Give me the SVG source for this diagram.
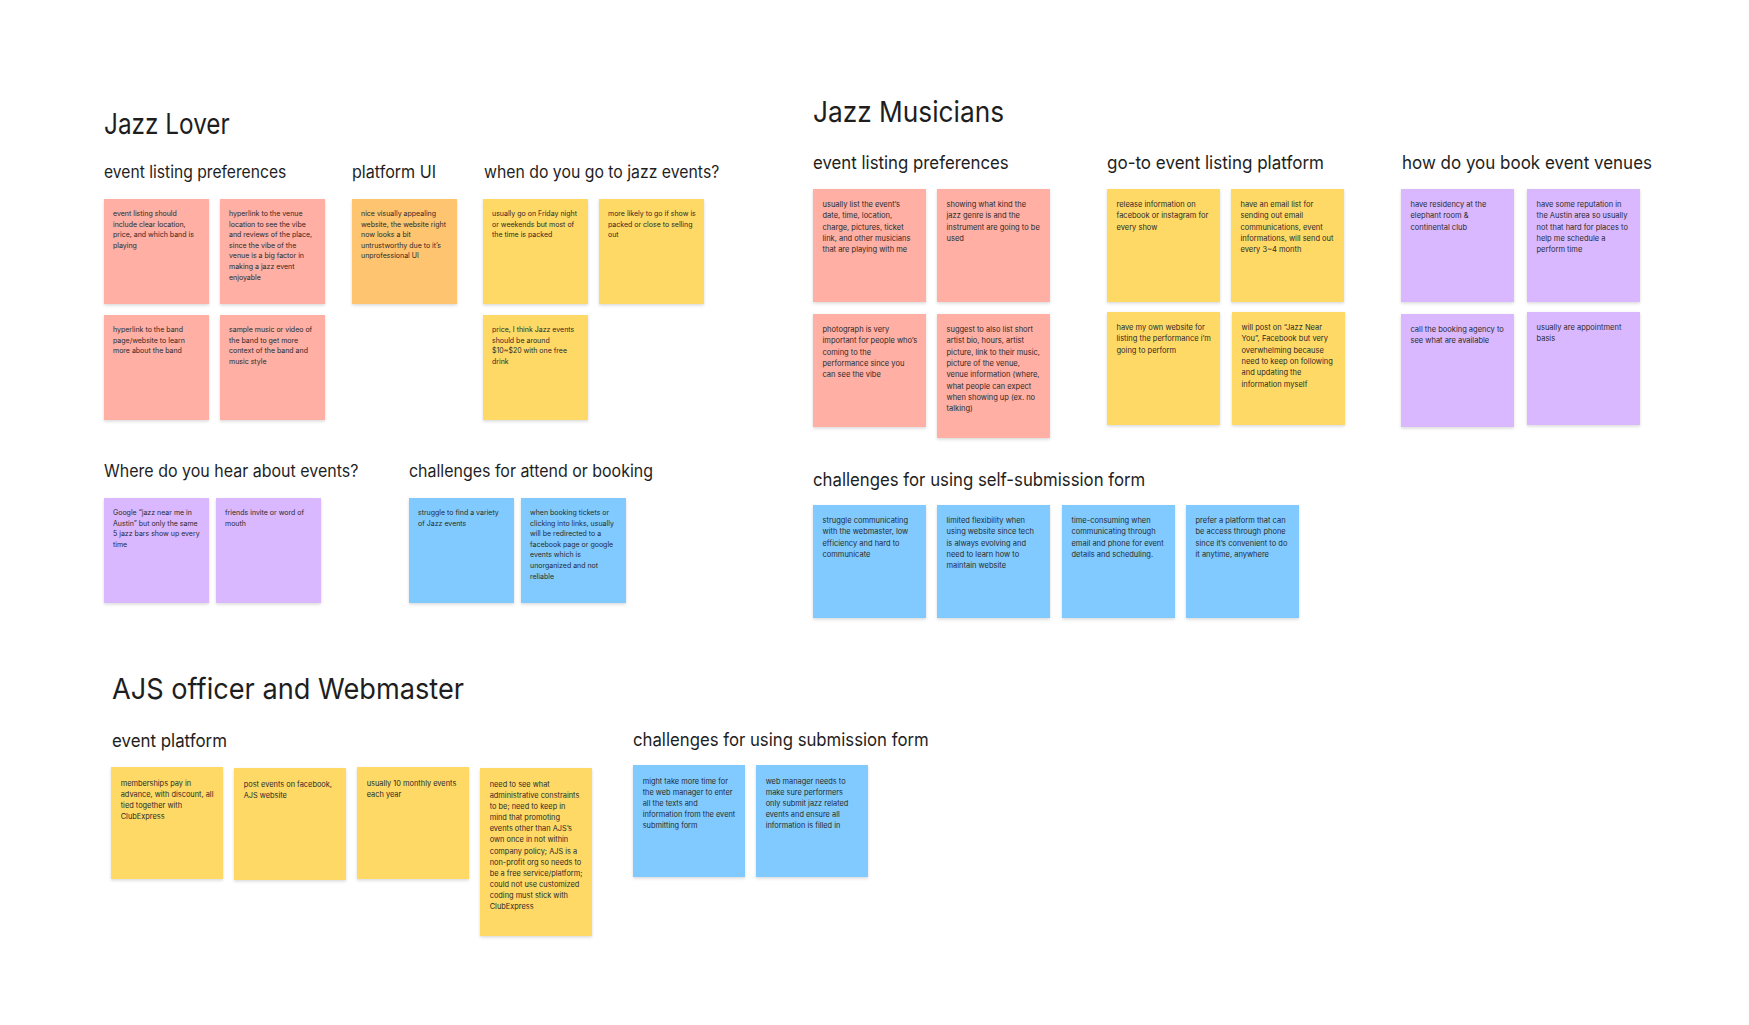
<svg xmlns="http://www.w3.org/2000/svg" width="1749" height="1025" viewBox="0 0 1749 1025">
<defs>
<filter id="sh" x="-10%" y="-10%" width="120%" height="130%">
<feDropShadow dx="0" dy="1.5" stdDeviation="1.5" flood-color="#000" flood-opacity="0.15"/>
</filter>
<style>
text{font-family:Inter,"Noto Sans","Liberation Sans",sans-serif;fill:#1e1e1e}
.title{font-size:29px}
.h1{font-size:17px}
.h2{font-size:18.2px}
.h3{font-size:18.1px}
.t1{font-size:7px;fill:#2a2a2a}
.t2{font-size:7.5px;fill:#2a2a2a}
.t3{font-size:7.4px;fill:#2a2a2a}
.red{fill:#FFAFA3}
.org{fill:#FFC470}
.yel{fill:#FFD966}
.vio{fill:#D9B8FF}
.blu{fill:#80CAFF}
rect{filter:url(#sh)}
</style>
</defs>
<rect x="0" y="0" width="1749" height="1025" fill="#ffffff" style="filter:none"/>

<!-- Section 1: Jazz Lover -->
<g id="jazz-lover">
<text class="title" x="104" y="134" textLength="125.7" lengthAdjust="spacingAndGlyphs">Jazz Lover</text>
<text class="h1" x="104" y="178" textLength="182.3" lengthAdjust="spacingAndGlyphs">event listing preferences</text>
<text class="h1" x="352" y="178" textLength="84" lengthAdjust="spacingAndGlyphs">platform UI</text>
<text class="h1" x="484" y="178" textLength="235.3" lengthAdjust="spacingAndGlyphs">when do you go to jazz events?</text>
<text class="h1" x="104" y="477" textLength="254.4" lengthAdjust="spacingAndGlyphs">Where do you hear about events?</text>
<text class="h1" x="409" y="477" textLength="244" lengthAdjust="spacingAndGlyphs">challenges for attend or booking</text>
</g>

<g id="jl-pref-1"><rect class="red" x="104" y="199" width="105" height="105"/>
<text class="t1" x="113" y="216"><tspan x="113">event listing should</tspan><tspan x="113" dy="10.6">include clear location,</tspan><tspan x="113" dy="10.6">price, and which band is</tspan><tspan x="113" dy="10.6">playing</tspan></text></g>
<g id="jl-pref-2"><rect class="red" x="220" y="199" width="105" height="105"/>
<text class="t1" x="229" y="216"><tspan x="229">hyperlink to the venue</tspan><tspan x="229" dy="10.6">location to see the vibe</tspan><tspan x="229" dy="10.6">and reviews of the place,</tspan><tspan x="229" dy="10.6">since the vibe of the</tspan><tspan x="229" dy="10.6">venue is a big factor in</tspan><tspan x="229" dy="10.6">making a jazz event</tspan><tspan x="229" dy="10.6">enjoyable</tspan></text></g>
<g id="jl-pref-3"><rect class="red" x="104" y="315" width="105" height="105"/>
<text class="t1" x="113" y="332"><tspan x="113">hyperlink to the band</tspan><tspan x="113" dy="10.6">page/website to learn</tspan><tspan x="113" dy="10.6">more about the band</tspan></text></g>
<g id="jl-pref-4"><rect class="red" x="220" y="315" width="105" height="105"/>
<text class="t1" x="229" y="332"><tspan x="229">sample music or video of</tspan><tspan x="229" dy="10.6">the band to get more</tspan><tspan x="229" dy="10.6">context of the band and</tspan><tspan x="229" dy="10.6">music style</tspan></text></g>
<g id="jl-ui-1"><rect class="org" x="352" y="199" width="105" height="105"/>
<text class="t1" x="361" y="216"><tspan x="361">nice visually appealing</tspan><tspan x="361" dy="10.6">website, the website right</tspan><tspan x="361" dy="10.6">now looks a bit</tspan><tspan x="361" dy="10.6">untrustworthy due to it’s</tspan><tspan x="361" dy="10.6">unprofessional UI</tspan></text></g>
<g id="jl-when-1"><rect class="yel" x="483" y="199" width="105" height="105"/>
<text class="t1" x="492" y="216"><tspan x="492">usually go on Friday night</tspan><tspan x="492" dy="10.6">or weekends but most of</tspan><tspan x="492" dy="10.6">the time is packed</tspan></text></g>
<g id="jl-when-2"><rect class="yel" x="599" y="199" width="105" height="105"/>
<text class="t1" x="608" y="216"><tspan x="608">more likely to go if show is</tspan><tspan x="608" dy="10.6">packed or close to selling</tspan><tspan x="608" dy="10.6">out</tspan></text></g>
<g id="jl-when-3"><rect class="yel" x="483" y="315" width="105" height="105"/>
<text class="t1" x="492" y="332"><tspan x="492">price, I think Jazz events</tspan><tspan x="492" dy="10.6">should be around</tspan><tspan x="492" dy="10.6">$10~$20 with one free</tspan><tspan x="492" dy="10.6">drink</tspan></text></g>
<g id="jl-hear-1"><rect class="vio" x="104" y="498" width="105" height="105"/>
<text class="t1" x="113" y="515"><tspan x="113">Google “jazz near me in</tspan><tspan x="113" dy="10.6">Austin” but only the same</tspan><tspan x="113" dy="10.6">5 jazz bars show up every</tspan><tspan x="113" dy="10.6">time</tspan></text></g>
<g id="jl-hear-2"><rect class="vio" x="216" y="498" width="105" height="105"/>
<text class="t1" x="225" y="515"><tspan x="225">friends invite or word of</tspan><tspan x="225" dy="10.6">mouth</tspan></text></g>
<g id="jl-chal-1"><rect class="blu" x="409" y="498" width="105" height="105"/>
<text class="t1" x="418" y="515"><tspan x="418">struggle to find a variety</tspan><tspan x="418" dy="10.6">of Jazz events</tspan></text></g>
<g id="jl-chal-2"><rect class="blu" x="521" y="498" width="105" height="105"/>
<text class="t1" x="530" y="515"><tspan x="530">when booking tickets or</tspan><tspan x="530" dy="10.6">clicking into links, usually</tspan><tspan x="530" dy="10.6">will be redirected to a</tspan><tspan x="530" dy="10.6">facebook page or google</tspan><tspan x="530" dy="10.6">events which is</tspan><tspan x="530" dy="10.6">unorganized and not</tspan><tspan x="530" dy="10.6">reliable</tspan></text></g>

<!-- Section 2: Jazz Musicians -->
<g id="jazz-musicians">
<text class="title" x="813" y="122" textLength="191" lengthAdjust="spacingAndGlyphs">Jazz Musicians</text>
<text class="h2" x="813" y="169" textLength="195.7" lengthAdjust="spacingAndGlyphs">event listing preferences</text>
<text class="h2" x="1107" y="169" textLength="217" lengthAdjust="spacingAndGlyphs">go-to event listing platform</text>
<text class="h2" x="1402" y="169" textLength="250" lengthAdjust="spacingAndGlyphs">how do you book event venues</text>
<text class="h2" x="813" y="486" textLength="332.3" lengthAdjust="spacingAndGlyphs">challenges for using self-submission form</text>
</g>

<g id="jm-pref-1"><rect class="red" x="813" y="189" width="113" height="113"/>
<text class="t2" x="822.5" y="207"><tspan x="822.5">usually list the event’s</tspan><tspan x="822.5" dy="11.33">date, time, location,</tspan><tspan x="822.5" dy="11.33">charge, pictures, ticket</tspan><tspan x="822.5" dy="11.33">link, and other musicians</tspan><tspan x="822.5" dy="11.33">that are playing with me</tspan></text></g>
<g id="jm-pref-2"><rect class="red" x="937" y="189" width="113" height="113"/>
<text class="t2" x="946.5" y="207"><tspan x="946.5">showing what kind the</tspan><tspan x="946.5" dy="11.33">jazz genre is and the</tspan><tspan x="946.5" dy="11.33">instrument are going to be</tspan><tspan x="946.5" dy="11.33">used</tspan></text></g>
<g id="jm-pref-3"><rect class="red" x="813" y="314" width="113" height="113"/>
<text class="t2" x="822.5" y="332"><tspan x="822.5">photograph is very</tspan><tspan x="822.5" dy="11.33">important for people who’s</tspan><tspan x="822.5" dy="11.33">coming to the</tspan><tspan x="822.5" dy="11.33">performance since you</tspan><tspan x="822.5" dy="11.33">can see the vibe</tspan></text></g>
<g id="jm-pref-4"><rect class="red" x="937" y="314" width="113" height="124"/>
<text class="t2" x="946.5" y="332"><tspan x="946.5">suggest to also list short</tspan><tspan x="946.5" dy="11.33">artist bio, hours, artist</tspan><tspan x="946.5" dy="11.33">picture, link to their music,</tspan><tspan x="946.5" dy="11.33">picture of the venue,</tspan><tspan x="946.5" dy="11.33">venue information (where,</tspan><tspan x="946.5" dy="11.33">what people can expect</tspan><tspan x="946.5" dy="11.33">when showing up (ex. no</tspan><tspan x="946.5" dy="11.33">talking)</tspan></text></g>
<g id="jm-plat-1"><rect class="yel" x="1107" y="189" width="113" height="113"/>
<text class="t2" x="1116.5" y="207"><tspan x="1116.5">release information on</tspan><tspan x="1116.5" dy="11.33">facebook or instagram for</tspan><tspan x="1116.5" dy="11.33">every show</tspan></text></g>
<g id="jm-plat-2"><rect class="yel" x="1231" y="189" width="113" height="113"/>
<text class="t2" x="1240.5" y="207"><tspan x="1240.5">have an email list for</tspan><tspan x="1240.5" dy="11.33">sending out email</tspan><tspan x="1240.5" dy="11.33">communications, event</tspan><tspan x="1240.5" dy="11.33">informations, will send out</tspan><tspan x="1240.5" dy="11.33">every 3~4 month</tspan></text></g>
<g id="jm-plat-3"><rect class="yel" x="1107" y="312" width="113" height="113"/>
<text class="t2" x="1116.5" y="330"><tspan x="1116.5">have my own website for</tspan><tspan x="1116.5" dy="11.33">listing the performance i’m</tspan><tspan x="1116.5" dy="11.33">going to perform</tspan></text></g>
<g id="jm-plat-4"><rect class="yel" x="1232" y="312" width="113" height="113"/>
<text class="t2" x="1241.5" y="330"><tspan x="1241.5">will post on “Jazz Near</tspan><tspan x="1241.5" dy="11.33">You”, Facebook but very</tspan><tspan x="1241.5" dy="11.33">overwhelming because</tspan><tspan x="1241.5" dy="11.33">need to keep on following</tspan><tspan x="1241.5" dy="11.33">and updating the</tspan><tspan x="1241.5" dy="11.33">information myself</tspan></text></g>
<g id="jm-book-1"><rect class="vio" x="1401" y="189" width="113" height="113"/>
<text class="t2" x="1410.5" y="207"><tspan x="1410.5">have residency at the</tspan><tspan x="1410.5" dy="11.33">elephant room &amp;</tspan><tspan x="1410.5" dy="11.33">continental club</tspan></text></g>
<g id="jm-book-2"><rect class="vio" x="1527" y="189" width="113" height="113"/>
<text class="t2" x="1536.5" y="207"><tspan x="1536.5">have some reputation in</tspan><tspan x="1536.5" dy="11.33">the Austin area so usually</tspan><tspan x="1536.5" dy="11.33">not that hard for places to</tspan><tspan x="1536.5" dy="11.33">help me schedule a</tspan><tspan x="1536.5" dy="11.33">perform time</tspan></text></g>
<g id="jm-book-3"><rect class="vio" x="1401" y="314" width="113" height="113"/>
<text class="t2" x="1410.5" y="332"><tspan x="1410.5">call the booking agency to</tspan><tspan x="1410.5" dy="11.33">see what are available</tspan></text></g>
<g id="jm-book-4"><rect class="vio" x="1527" y="312" width="113" height="113"/>
<text class="t2" x="1536.5" y="330"><tspan x="1536.5">usually are appointment</tspan><tspan x="1536.5" dy="11.33">basis</tspan></text></g>
<g id="jm-chal-1"><rect class="blu" x="813" y="505" width="113" height="113"/>
<text class="t2" x="822.5" y="523"><tspan x="822.5">struggle communicating</tspan><tspan x="822.5" dy="11.33">with the webmaster, low</tspan><tspan x="822.5" dy="11.33">efficiency and hard to</tspan><tspan x="822.5" dy="11.33">communicate</tspan></text></g>
<g id="jm-chal-2"><rect class="blu" x="937" y="505" width="113" height="113"/>
<text class="t2" x="946.5" y="523"><tspan x="946.5">limited flexibility when</tspan><tspan x="946.5" dy="11.33">using website since tech</tspan><tspan x="946.5" dy="11.33">is always evolving and</tspan><tspan x="946.5" dy="11.33">need to learn how to</tspan><tspan x="946.5" dy="11.33">maintain website</tspan></text></g>
<g id="jm-chal-3"><rect class="blu" x="1062" y="505" width="113" height="113"/>
<text class="t2" x="1071.5" y="523"><tspan x="1071.5">time-consuming when</tspan><tspan x="1071.5" dy="11.33">communicating through</tspan><tspan x="1071.5" dy="11.33">email and phone for event</tspan><tspan x="1071.5" dy="11.33">details and scheduling.</tspan></text></g>
<g id="jm-chal-4"><rect class="blu" x="1186" y="505" width="113" height="113"/>
<text class="t2" x="1195.5" y="523"><tspan x="1195.5">prefer a platform that can</tspan><tspan x="1195.5" dy="11.33">be access through phone</tspan><tspan x="1195.5" dy="11.33">since it’s convenient to do</tspan><tspan x="1195.5" dy="11.33">it anytime, anywhere</tspan></text></g>

<!-- Section 3: AJS officer and Webmaster -->
<g id="ajs">
<text class="title" x="112" y="699" textLength="352" lengthAdjust="spacingAndGlyphs">AJS officer and Webmaster</text>
<text class="h3" x="112" y="747" textLength="115" lengthAdjust="spacingAndGlyphs">event platform</text>
<text class="h3" x="633" y="746" textLength="295.7" lengthAdjust="spacingAndGlyphs">challenges for using submission form</text>
</g>

<g id="ajs-plat-1"><rect class="yel" x="111" y="767" width="112" height="112"/>
<text class="t3" x="120.7" y="785.5"><tspan x="120.7">memberships pay in</tspan><tspan x="120.7" dy="11.17">advance, with discount, all</tspan><tspan x="120.7" dy="11.17">tied together with</tspan><tspan x="120.7" dy="11.17">ClubExpress</tspan></text></g>
<g id="ajs-plat-2"><rect class="yel" x="234" y="768" width="112" height="112"/>
<text class="t3" x="243.7" y="786.5"><tspan x="243.7">post events on facebook,</tspan><tspan x="243.7" dy="11.17">AJS website</tspan></text></g>
<g id="ajs-plat-3"><rect class="yel" x="357" y="767" width="112" height="112"/>
<text class="t3" x="366.7" y="785.5"><tspan x="366.7">usually 10 monthly events</tspan><tspan x="366.7" dy="11.17">each year</tspan></text></g>
<g id="ajs-plat-4"><rect class="yel" x="480" y="768" width="112" height="168"/>
<text class="t3" x="489.7" y="786.5"><tspan x="489.7">need to see what</tspan><tspan x="489.7" dy="11.17">administrative constraints</tspan><tspan x="489.7" dy="11.17">to be; need to keep in</tspan><tspan x="489.7" dy="11.17">mind that promoting</tspan><tspan x="489.7" dy="11.17">events other than AJS’s</tspan><tspan x="489.7" dy="11.17">own once in not within</tspan><tspan x="489.7" dy="11.17">company policy; AJS is a</tspan><tspan x="489.7" dy="11.17">non-profit org so needs to</tspan><tspan x="489.7" dy="11.17">be a free service/platform;</tspan><tspan x="489.7" dy="11.17">could not use customized</tspan><tspan x="489.7" dy="11.17">coding must stick with</tspan><tspan x="489.7" dy="11.17">ClubExpress</tspan></text></g>
<g id="ajs-chal-1"><rect class="blu" x="633" y="765" width="112" height="112"/>
<text class="t3" x="642.7" y="783.5"><tspan x="642.7">might take more time for</tspan><tspan x="642.7" dy="11.17">the web manager to enter</tspan><tspan x="642.7" dy="11.17">all the texts and</tspan><tspan x="642.7" dy="11.17">information from the event</tspan><tspan x="642.7" dy="11.17">submitting form</tspan></text></g>
<g id="ajs-chal-2"><rect class="blu" x="756" y="765" width="112" height="112"/>
<text class="t3" x="765.7" y="783.5"><tspan x="765.7">web manager needs to</tspan><tspan x="765.7" dy="11.17">make sure performers</tspan><tspan x="765.7" dy="11.17">only submit jazz related</tspan><tspan x="765.7" dy="11.17">events and ensure all</tspan><tspan x="765.7" dy="11.17">information is filled in</tspan></text></g>

<g id="connectors"></g>
</svg>
